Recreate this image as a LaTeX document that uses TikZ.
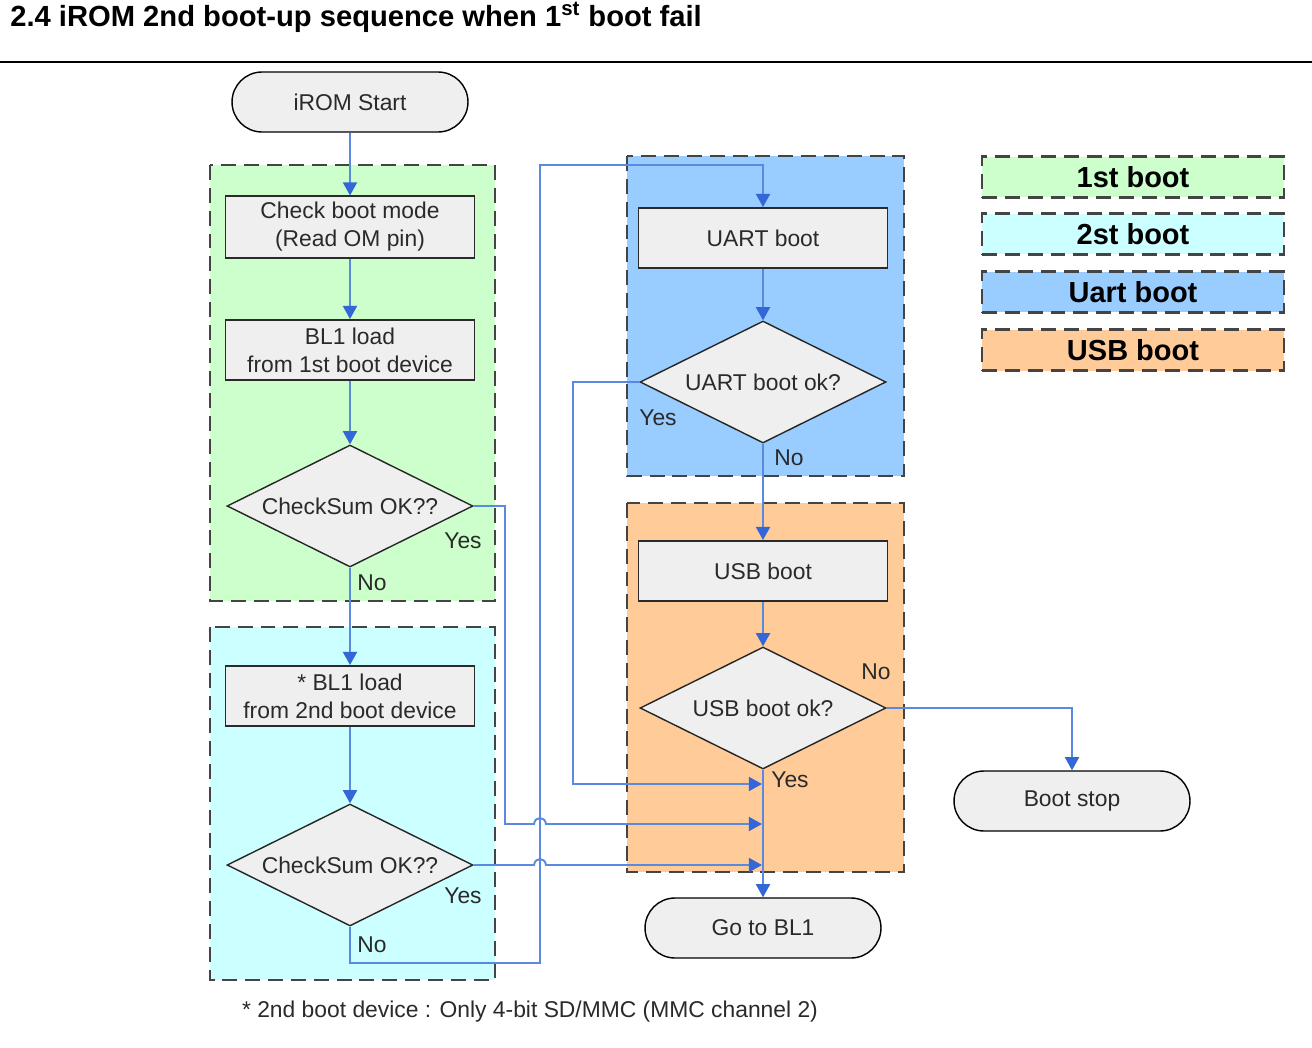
\documentclass[tikz,border=0pt]{standalone}
\usepackage{fontspec}
\setmainfont{Liberation Sans}
\usepackage{xcolor}
\usepackage{tikz}
\usetikzlibrary{shapes.geometric,arrows.meta,calc}

\definecolor{firstfill}{HTML}{CCFFCC}
\definecolor{secondfill}{HTML}{CCFFFF}
\definecolor{uartfill}{HTML}{99CCFF}
\definecolor{usbfill}{HTML}{FFCC99}
\definecolor{nodefill}{HTML}{EFEFEF}
\definecolor{dashgray}{HTML}{444444}
\definecolor{lineblue}{HTML}{5A8AE0}
\definecolor{tipblue}{HTML}{3366D6}
\definecolor{txtgray}{HTML}{2A2A2A}

\begin{document}
\begin{tikzpicture}[x=0.02cm, y=-0.02cm,
    region/.style={fill=#1, draw=dashgray, line width=1.5pt, dash pattern=on 8.5pt off 4.5pt},
    key/.style={region=#1, minimum width=6.04cm, minimum height=0.82cm, font=\fontsize{16.5}{18}\selectfont\bfseries},
    box/.style={draw=txtgray, line width=1.1pt, fill=nodefill, minimum width=4.98cm, minimum height=1.2cm,
        align=center, text=txtgray, font=\fontsize{13}{16}\selectfont},
    pill/.style={draw=black, line width=0.8pt, fill=nodefill, rounded corners=0.6cm, minimum width=4.72cm,
        minimum height=1.2cm, text=txtgray, font=\fontsize{13}{16}\selectfont},
    dec/.style={diamond, aspect=2, draw=black!85, line width=0.8pt, fill=nodefill, minimum width=4.92cm,
        minimum height=2.44cm, inner sep=0pt, text=txtgray, font=\fontsize{13}{16}\selectfont},
    conn/.style={draw=lineblue, line width=1.1pt, -{Triangle[length=7.5pt,width=8pt,color=tipblue]}},
    lbl/.style={text=txtgray, font=\fontsize{13}{15}\selectfont}]
    \useasboundingbox (0,0) rectangle (1312,1048);

    % title and rule
    \node[anchor=base west, font=\fontsize{16.6}{18}\selectfont\bfseries, inner sep=0pt] (title) at (10,27)
        {2.4 iROM 2nd boot-up sequence when 1\textsuperscript{st} boot fail};
    \draw[line width=1.2pt] (0,62) -- (1312,62);

    % boot regions
    \draw[region=firstfill] (210,165) rectangle (495,601);
    \draw[region=secondfill] (210,627) rectangle (495,980);
    \draw[region=uartfill] (627,156) rectangle (904,476);
    \draw[region=usbfill] (627,503) rectangle (904,872);

    % legend
    \node[key=firstfill] (k1) at (1133,177) {1st boot};
    \node[key=secondfill] (k2) at (1133,234) {2st boot};
    \node[key=uartfill] (k3) at (1133,292) {Uart boot};
    \node[key=usbfill] (k4) at (1133,350) {USB boot};

    % flow nodes
    \node[pill] (start) at (350,102) {iROM Start};
    \node[box] (check) at (350,227) {Check boot mode\\(Read OM pin)};
    \node[box] (load1) at (350,350) {BL1 load\\from 1st boot device};
    \node[dec] (sum1) at (350,506) {CheckSum OK??};
    \node[box] (load2) at (350,696) {* BL1 load\\from 2nd boot device};
    \node[dec] (sum2) at (350,865) {CheckSum OK??};
    \node[box] (uart) at (763,238) {UART boot};
    \node[dec] (uartok) at (763,382) {UART boot ok?};
    \node[box] (usb) at (763,571) {USB boot};
    \node[dec] (usbok) at (763,708) {USB boot ok?};
    \node[pill] (bl1) at (763,928) {Go to BL1};
    \node[pill] (stop) at (1072,801) {Boot stop};

    \coordinate (in1) at (762,784);
    \coordinate (in2) at (762,824);
    \coordinate (in3) at (762,865);

    % connectors
    \draw[conn] (start) -- (check);
    \draw[conn] (check) -- (load1);
    \draw[conn] (load1) -- (sum1);
    \draw[conn] (sum1) -- (load2);
    \draw[conn] (load2) -- (sum2);
    \draw[conn] (uart) -- (uartok);
    \draw[conn] (uartok) -- (usb);
    \draw[conn] (usb) -- (usbok);
    \draw[conn] (usbok) -- (bl1);
    \draw[conn] (usbok.east) -| (stop);
    \draw[conn] (sum2.south) |- (540,963) -- (540,165) -| (uart);
    \draw[conn] (uartok.west) -- (573,382) |- (in1);
    \draw[conn] (sum1.east) -- (505,506) -- (505,824) -- (534,824)
        .. controls (535,816) and (545,816) .. (546,824) -- (in2);
    \draw[conn] (sum2.east) -- (534,865)
        .. controls (535,857) and (545,857) .. (546,865) -- (in3);

    % branch labels
    \node[lbl] (y1) at (463,541) {Yes};
    \node[lbl] (n1) at (372,583) {No};
    \node[lbl] (y2) at (463,896) {Yes};
    \node[lbl] (n2) at (372,945) {No};
    \node[lbl] (y3) at (658,418) {Yes};
    \node[lbl] (n3) at (789,458) {No};
    \node[lbl] (n4) at (876,672) {No};
    \node[lbl] (y4) at (790,780) {Yes};

    % footnote
    \node[lbl] (note) at (530,1012) {* 2nd boot device : Only 4-bit SD/MMC (MMC channel 2)};
\end{tikzpicture}
\end{document}
